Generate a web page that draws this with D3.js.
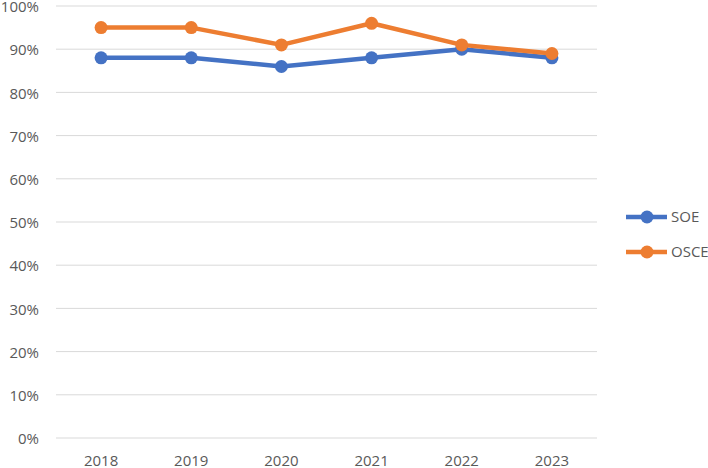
<!DOCTYPE html>
<html>
<head>
<meta charset="utf-8">
<script src="https://cdn.jsdelivr.net/npm/d3@7"></script>
<style>
  body { margin: 0; background: #fff; }
  text { font-family: "Open Sans", "Liberation Sans", sans-serif; fill: #595959; }
</style>
</head>
<body>
<script>
var years = ["2018", "2019", "2020", "2021", "2022", "2023"];
var soe = [0.88, 0.88, 0.86, 0.88, 0.90, 0.88];
var osce = [0.95, 0.95, 0.91, 0.96, 0.91, 0.89];
var yTicks = [0, 0.1, 0.2, 0.3, 0.4, 0.5, 0.6, 0.7, 0.8, 0.9, 1.0];

var series = [
  {name: "SOE", values: soe, color: "#4472c4"},
  {name: "OSCE", values: osce, color: "#ed7d31"}
];

var svg = d3.select("body").append("svg")
    .attr("width", 708)
    .attr("height", 468);

// plot area (window.top is reserved, so use a margin object)
var plot = {left: 56, right: 597, top: 6, bottom: 438};

var x = d3.scaleBand().domain(years).range([plot.left, plot.right]);
var y = d3.scaleLinear().domain([0, 1]).range([plot.bottom, plot.top]);

// gridlines
svg.append("g").selectAll("line")
    .data(yTicks)
    .join("line")
    .attr("x1", plot.left).attr("x2", plot.right)
    .attr("y1", function(d) { return y(d); })
    .attr("y2", function(d) { return y(d); })
    .attr("stroke", "#d9d9d9")
    .attr("stroke-width", 1);

// y labels
svg.append("g").selectAll("text")
    .data(yTicks)
    .join("text")
    .attr("x", 39)
    .attr("y", function(d) { return y(d) + 1; })
    .attr("dy", "0.35em")
    .attr("text-anchor", "end")
    .style("font-size", "15px")
    .text(d3.format(".0%"));

// x labels
svg.append("g").selectAll("text")
    .data(years)
    .join("text")
    .attr("x", function(d) { return x(d) + x.bandwidth() / 2; })
    .attr("y", 461)
    .attr("dy", "0.35em")
    .attr("text-anchor", "middle")
    .style("font-size", "15px")
    .text(function(d) { return d; });

var line = d3.line()
    .x(function(d, i) { return x(years[i]) + x.bandwidth() / 2; })
    .y(function(d) { return y(d); });

series.forEach(function(s) {
  var g = svg.append("g");
  g.append("path")
      .datum(s.values)
      .attr("fill", "none")
      .attr("stroke", s.color)
      .attr("stroke-width", 4.5)
      .attr("stroke-linejoin", "round")
      .attr("stroke-linecap", "round")
      .attr("d", line);
  g.selectAll("circle")
      .data(s.values)
      .join("circle")
      .attr("cx", function(d, i) { return x(years[i]) + x.bandwidth() / 2; })
      .attr("cy", function(d) { return y(d); })
      .attr("r", 6.5)
      .attr("fill", s.color);
});

// legend
var legend = svg.append("g").selectAll("g")
    .data(series)
    .join("g")
    .attr("transform", function(d, i) { return "translate(626," + (217 + i * 35) + ")"; });

legend.append("line")
    .attr("x1", 0).attr("x2", 41)
    .attr("stroke", function(d) { return d.color; })
    .attr("stroke-width", 4.5);
legend.append("circle")
    .attr("cx", 21)
    .attr("r", 6.5)
    .attr("fill", function(d) { return d.color; });
legend.append("text")
    .attr("x", 45)
    .attr("dy", "0.35em")
    .style("font-size", "15px")
    .text(function(d) { return d.name; });
</script>
</body>
</html>
